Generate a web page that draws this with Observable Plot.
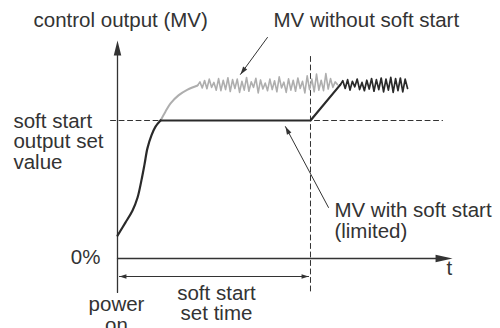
<!DOCTYPE html>
<html><head><meta charset="utf-8">
<script src="https://cdn.jsdelivr.net/npm/d3@7"></script>
<script src="https://cdn.jsdelivr.net/npm/@observablehq/plot@0.6"></script>
<style>html,body{margin:0;padding:0;background:#fff;}</style>
</head><body><div id="chart"></div>
<script>
// Units: time where "soft start set time" = 10; output in % where soft start output set value = 50
const softStartTime = 10;
const softStartValue = 50;
const timeAxisEnd = 17.36;
const outputAxisTop = 79.0;
const axisBottom = -12.3;
const dashStart = -0.36, dashEnd = 16.84, vDashTop = 73.2;
const timeArrowV = -6.52;

// MV with soft start: initial rise (limited at soft start value)
const riseBlackT = [0, 0.41, 0.78, 1.04, 1.24, 1.40, 1.55, 1.76, 1.97, 2.23];
const riseBlackV = [8.3, 13.0, 17.4, 22.1, 28.3, 34.1, 39.9, 44.6, 47.8, 50];
// hold, then ramp after soft start set time
const holdT = [2.23, 10, 11.55];
const holdV = [50, 50, 63];
// MV without soft start: continued rise
const riseGrayT = [2.23, 2.49, 2.75, 3.16, 3.63, 4.15];
const riseGrayV = [50, 53.3, 56.2, 59.1, 61.2, 62.7];
// oscillating MV without soft start
const grayNoiseStart = 4.15, grayNoiseEnd = 11.4;
const grayNoise = [62.7, 64.0, 61.8, 64.5, 61.5, 65.0, 62.0, 63.8, 61.0, 65.2, 60.8, 64.6, 61.2, 65.5, 60.5, 64.8,
  61.6, 65.0, 60.2, 64.2, 61.0, 65.6, 60.6, 64.0, 62.0, 65.3, 60.0, 64.7, 61.4, 63.6, 60.8, 65.0, 61.2, 64.4,
  60.4, 65.8, 61.8, 63.9, 60.2, 65.1, 61.0, 64.6, 60.6, 65.4, 61.6, 64.2, 60.0, 66.2, 61.2, 65.0, 60.4, 66.8,
  61.0, 64.6, 60.8, 67.0, 61.4, 65.2, 62.0, 64.0, 63.0];
// oscillating MV with soft start (after ramp)
const darkNoiseStart = 11.55, darkNoiseEnd = 15.03;
const darkNoise = [63.0, 64.4, 61.6, 64.8, 61.0, 64.2, 62.2, 65.0, 61.2, 63.8, 60.8, 64.6, 61.4, 65.2, 60.6,
  64.8, 61.2, 65.4, 60.4, 65.0, 61.0, 65.6, 60.2, 65.2, 60.8, 65.4, 60.4, 65.0, 61.6];

// text labels
const labelText = ["control output (MV)", "MV without soft start", "soft start\noutput set\nvalue",
  "MV with soft start\n(limited)", "0%", "t", "power\non", "soft start\nset time"];
const labelT = [-4.35, 8.08, -5.39, 11.24, -0.88, 17.2, -0.05, 5.13];
const labelV = [83.7, 83.7, 32.6, 7.6, -2.17, -5.8, -26.6, -22.46];
const labelAnchor = ["start", "start", "start", "start", "end", "middle", "middle", "middle"];

// annotation pointers [fromT, fromV, toT, toV]
const pointerFrom = [[7.77, 80.1], [10.93, 18.5]];
const pointerTo = [[6.37, 66.7], [8.70, 47.8]];

const W = 500, H = 328;
const xDomain = [-6.062, 19.845], yDomain = [-25.36, 93.48];
const sx = d3.scaleLinear(xDomain, [0, W]);
const sy = d3.scaleLinear(yDomain, [H, 0]);

function head(angleDeg, len, width) {
  const a = angleDeg * Math.PI / 180, c = Math.cos(a), s = Math.sin(a);
  return {draw(ctx) {
    const bx = -len * c, by = -len * s, px = -s * width / 2, py = c * width / 2;
    ctx.moveTo(0, 0); ctx.lineTo(bx + px, by + py); ctx.lineTo(bx - px, by - py); ctx.closePath();
  }};
}
function angleOf(f, t) {
  return Math.atan2(sy(t[1]) - sy(f[1]), sx(t[0]) - sx(f[0])) * 180 / Math.PI;
}

const pts = (T, V) => T.map((t, i) => ({t, v: V[i]}));
const noisePts = (a, b, V) => V.map((v, i) => ({t: a + (b - a) * i / (V.length - 1), v}));

const ink = "#333";
const labels = labelText.map((text, i) => ({text, t: labelT[i], v: labelV[i], anchor: labelAnchor[i]}));

const marks = [
  // axes
  Plot.line([{t: 0, v: axisBottom}, {t: 0, v: outputAxisTop - 3}], {x: "t", y: "v", stroke: ink, strokeWidth: 1.3}),
  Plot.line([{t: 0, v: 0}, {t: timeAxisEnd - 0.5, v: 0}], {x: "t", y: "v", stroke: ink, strokeWidth: 1.3}),
  Plot.dot([{t: 0, v: outputAxisTop}], {x: "t", y: "v", symbol: head(-90, 15, 7.5), fill: ink, stroke: "none"}),
  Plot.dot([{t: timeAxisEnd, v: 0}], {x: "t", y: "v", symbol: head(0, 17, 7.5), fill: ink, stroke: "none"}),
  // dashed references
  Plot.line([{t: dashStart, v: softStartValue}, {t: dashEnd, v: softStartValue}], {x: "t", y: "v", stroke: ink, strokeWidth: 1, strokeDasharray: "5,3.5"}),
  Plot.line([{t: softStartTime, v: vDashTop}, {t: softStartTime, v: axisBottom}], {x: "t", y: "v", stroke: ink, strokeWidth: 1, strokeDasharray: "5,3.5"}),
  // soft start set time arrow
  Plot.line([{t: 0.1, v: timeArrowV}, {t: softStartTime - 0.1, v: timeArrowV}], {x: "t", y: "v", stroke: ink, strokeWidth: 1}),
  Plot.dot([{t: 0.1, v: timeArrowV}], {x: "t", y: "v", symbol: head(180, 7, 4.5), fill: ink, stroke: "none"}),
  Plot.dot([{t: softStartTime - 0.1, v: timeArrowV}], {x: "t", y: "v", symbol: head(0, 7, 4.5), fill: ink, stroke: "none"}),
  // MV without soft start (gray)
  Plot.line(pts(riseGrayT, riseGrayV), {x: "t", y: "v", stroke: "#aeaeae", strokeWidth: 2, curve: "catmull-rom"}),
  Plot.line(noisePts(grayNoiseStart, grayNoiseEnd, grayNoise), {x: "t", y: "v", stroke: "#aeaeae", strokeWidth: 1.6, strokeLinejoin: "round"}),
  // MV with soft start (dark)
  Plot.line(pts(riseBlackT, riseBlackV), {x: "t", y: "v", stroke: "#2a2a2a", strokeWidth: 2.2, curve: "catmull-rom"}),
  Plot.line(pts(holdT, holdV), {x: "t", y: "v", stroke: "#2a2a2a", strokeWidth: 2.2}),
  Plot.line(noisePts(darkNoiseStart, darkNoiseEnd, darkNoise), {x: "t", y: "v", stroke: "#2a2a2a", strokeWidth: 1.7, strokeLinejoin: "round"}),
  // pointers
  ...pointerFrom.map((f, i) => Plot.line([{t: f[0], v: f[1]}, {t: pointerTo[i][0], v: pointerTo[i][1]}], {x: "t", y: "v", stroke: ink, strokeWidth: 1})),
  ...pointerFrom.map((f, i) => Plot.dot([{t: pointerTo[i][0], v: pointerTo[i][1]}], {x: "t", y: "v", symbol: head(angleOf(f, pointerTo[i]), 8, 5), fill: ink, stroke: "none"})),
  // labels
  ...["start", "end", "middle"].map(a => Plot.text(labels.filter(d => d.anchor === a), {
    x: "t", y: "v", text: "text", textAnchor: a, lineAnchor: "bottom", lineHeight: 1.0,
    fill: "#333", fontSize: 20.5
  }))
];

const chart = Plot.plot({
  width: W, height: H, margin: 0,
  x: {domain: xDomain, axis: null},
  y: {domain: yDomain, axis: null},
  style: {fontFamily: "'Liberation Sans', Arial, sans-serif", background: "#fff", overflow: "hidden"},
  marks
});
document.getElementById("chart").appendChild(chart);
</script>
</body></html>
